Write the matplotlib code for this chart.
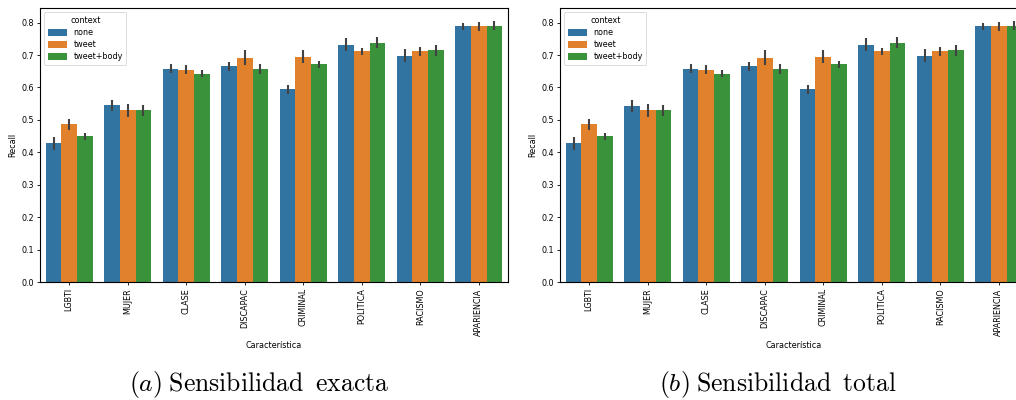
import matplotlib
matplotlib.use("Agg")
import matplotlib.pyplot as plt
import numpy as np

plt.rcParams['mathtext.fontset'] = 'cm'
plt.rcParams['font.family'] = 'DejaVu Sans'

categorias = ['LGBTI', 'MUJER', 'CLASE', 'DISCAPAC', 'CRIMINAL', 'POLITICA', 'RACISMO', 'APARIENCIA']
contextos = ['none', 'tweet', 'tweet+body']
colores = ['#3274a1', '#e1812c', '#3a923a']

# (a) sensibilidad exacta: medias y medio ancho del intervalo
exacta = {
    'none':       [0.428, 0.545, 0.658, 0.665, 0.594, 0.732, 0.698, 0.788],
    'tweet':      [0.486, 0.529, 0.655, 0.692, 0.695, 0.711, 0.711, 0.788],
    'tweet+body': [0.449, 0.529, 0.643, 0.658, 0.671, 0.738, 0.714, 0.791],
}
exacta_err = {
    'none':       [0.020, 0.017, 0.014, 0.015, 0.015, 0.021, 0.021, 0.011],
    'tweet':      [0.016, 0.019, 0.014, 0.022, 0.020, 0.012, 0.015, 0.014],
    'tweet+body': [0.012, 0.017, 0.012, 0.015, 0.011, 0.017, 0.018, 0.015],
}

# (b) sensibilidad total
total = {
    'none':       [0.428, 0.542, 0.658, 0.665, 0.594, 0.732, 0.698, 0.788],
    'tweet':      [0.486, 0.529, 0.655, 0.692, 0.695, 0.711, 0.711, 0.788],
    'tweet+body': [0.449, 0.529, 0.643, 0.658, 0.671, 0.738, 0.714, 0.791],
}
total_err = {
    'none':       [0.020, 0.018, 0.014, 0.015, 0.015, 0.021, 0.021, 0.011],
    'tweet':      [0.016, 0.019, 0.014, 0.022, 0.020, 0.012, 0.015, 0.014],
    'tweet+body': [0.012, 0.017, 0.012, 0.015, 0.011, 0.017, 0.018, 0.015],
}

FS = 5.8
W, H = 1016, 400
fig = plt.figure(figsize=(W / 100, H / 100), dpi=100)


def panel(ax, medias, errores):
    x = np.arange(len(categorias))
    ancho = 0.8 / len(contextos)
    for i, c in enumerate(contextos):
        pos = x - 0.4 + ancho * (i + 0.5)
        ax.bar(pos, medias[c], width=ancho, color=colores[i], label=c, linewidth=0, zorder=2)
        ax.errorbar(pos, medias[c], yerr=errores[c], fmt='none', ecolor='#424242',
                    elinewidth=1.5, capsize=0, zorder=3)
    ax.set_xlim(-0.5, len(categorias) - 0.5)
    ax.set_ylim(0, 0.845)
    ax.set_yticks(np.arange(0, 0.81, 0.1))
    ax.set_xticks(x)
    ax.set_xticklabels(categorias, rotation=90)
    ax.tick_params(labelsize=FS, length=2.5, width=0.6, pad=2)
    ax.set_xlabel('Característica', fontsize=FS, labelpad=4)
    ax.set_ylabel('Recall', fontsize=FS, labelpad=3)
    for s in ax.spines.values():
        s.set_linewidth(0.8)
    leg = ax.legend(title='context', loc='upper left', fontsize=FS, title_fontsize=FS,
                    handlelength=2.4, handleheight=1.0, borderpad=0.45, labelspacing=0.4)
    leg.get_frame().set_linewidth(0.6)


ax1 = fig.add_axes([40 / W, 118 / H, 468 / W, 274 / H])
panel(ax1, exacta, exacta_err)
ax2 = fig.add_axes([560 / W, 118 / H, 468 / W, 274 / H])
panel(ax2, total, total_err)

fig.text(259 / W, 1 - 385 / H, r'$(a)\;\mathrm{Sensibilidad\;\;exacta}$', ha='center', va='center', fontsize=18.5)
fig.text(778 / W, 1 - 385 / H, r'$(b)\;\mathrm{Sensibilidad\;\;total}$', ha='center', va='center', fontsize=18.5)

fig.savefig('out.png', dpi=100)
